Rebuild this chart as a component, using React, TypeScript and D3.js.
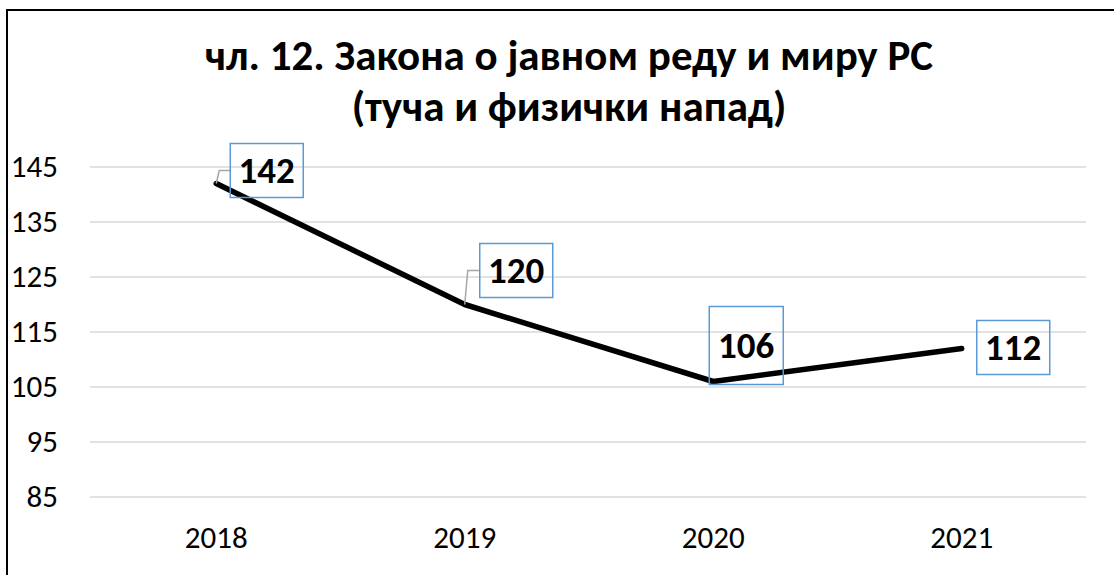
import { useEffect, useRef } from "react";
import * as d3 from "d3";

const W = 1114;
const H = 575;

const years = ["2018", "2019", "2020", "2021"];
const values = [142, 120, 106, 112];
const yTicks = [85, 95, 105, 115, 125, 135, 145];
const titleLines = ["чл. 12. Закона о јавном реду и миру РС", "(туча и физички напад)"];

// label box placement relative to its point (manual, as in the source chart)
const labelBoxes = [
  { dx: 14, dy: -40, w: 73, h: 54, leader: true },
  { dx: 15, dy: -61, w: 73, h: 54, leader: true },
  { dx: -4, dy: -75, w: 74, h: 78, leader: false },
  { dx: 15, dy: -28, w: 73, h: 54, leader: false },
];

const FONT = "Carlito, Calibri, Lato, sans-serif";

export default function App() {
  const svgRef = useRef<SVGSVGElement>(null);

  useEffect(() => {
    if (!svgRef.current) return;
    const svg = d3.select(svgRef.current);
    svg.selectAll("*").remove();

    const x = d3.scaleBand<string>().domain(years).range([92, 1086]);
    const y = d3.scaleLinear().domain([85, 145]).range([497, 167]);
    const cx = (d: string) => (x(d) ?? 0) + x.bandwidth() / 2;

    svg.append("rect").attr("width", W).attr("height", H).attr("fill", "#fff");

    // chart border
    svg
      .append("rect")
      .attr("x", 7)
      .attr("y", 10)
      .attr("width", W + 20)
      .attr("height", H + 20)
      .attr("fill", "none")
      .attr("stroke", "#000")
      .attr("stroke-width", 2);

    // title
    svg
      .append("g")
      .selectAll("text")
      .data(titleLines)
      .join("text")
      .attr("x", 569)
      .attr("y", (_, i) => 70 + i * 51)
      .attr("text-anchor", "middle")
      .attr("font-family", FONT)
      .attr("font-weight", "bold")
      .attr("font-size", 43)
      .attr("fill", "#000")
      .text((d) => d);

    // gridlines
    svg
      .append("g")
      .selectAll("line")
      .data(yTicks)
      .join("line")
      .attr("x1", 90)
      .attr("x2", 1086)
      .attr("y1", (d) => y(d))
      .attr("y2", (d) => y(d))
      .attr("stroke", "#d9d9d9")
      .attr("stroke-width", 1.5);

    // y labels
    svg
      .append("g")
      .selectAll("text")
      .data(yTicks)
      .join("text")
      .attr("x", 58)
      .attr("y", (d) => y(d) + 10)
      .attr("text-anchor", "end")
      .attr("font-family", FONT)
      .attr("font-size", 31)
      .attr("fill", "#000")
      .text((d) => d);

    // x labels
    svg
      .append("g")
      .selectAll("text")
      .data(years)
      .join("text")
      .attr("x", (d) => cx(d))
      .attr("y", 548)
      .attr("text-anchor", "middle")
      .attr("font-family", FONT)
      .attr("font-size", 31)
      .attr("fill", "#000")
      .text((d) => d);

    const pts = years.map((d, i) => ({ x: cx(d), y: y(values[i]), v: values[i], box: labelBoxes[i] }));

    // line
    const line = d3
      .line<{ x: number; y: number }>()
      .x((d) => d.x)
      .y((d) => d.y);
    svg
      .append("path")
      .attr("d", line(pts))
      .attr("fill", "none")
      .attr("stroke", "#000")
      .attr("stroke-width", 5.5)
      .attr("stroke-linecap", "round")
      .attr("stroke-linejoin", "round");

    // data labels
    const lab = svg.append("g");
    pts.forEach((p) => {
      const bx = p.x + p.box.dx;
      const by = p.y + p.box.dy;
      const my = by + p.box.h / 2;
      if (p.box.leader) {
        lab
          .append("polyline")
          .attr("points", `${p.x},${p.y} ${p.x + 3},${my} ${bx},${my}`)
          .attr("fill", "none")
          .attr("stroke", "#a6a6a6")
          .attr("stroke-width", 1.5);
      }
      lab
        .append("rect")
        .attr("x", bx)
        .attr("y", by)
        .attr("width", p.box.w)
        .attr("height", p.box.h)
        .attr("fill", "none")
        .attr("stroke", "#5b9bd5")
        .attr("stroke-width", 1.5);
      lab
        .append("text")
        .attr("x", bx + p.box.w / 2)
        .attr("y", my + 12)
        .attr("text-anchor", "middle")
        .attr("font-family", FONT)
        .attr("font-weight", "bold")
        .attr("font-size", 37)
        .attr("fill", "#000")
        .text(p.v);
    });
  }, []);

  return (
    <svg
      ref={svgRef}
      width={W}
      height={H}
      viewBox={`0 0 ${W} ${H}`}
      style={{ position: "absolute", left: 0, top: 0 }}
    />
  );
}
